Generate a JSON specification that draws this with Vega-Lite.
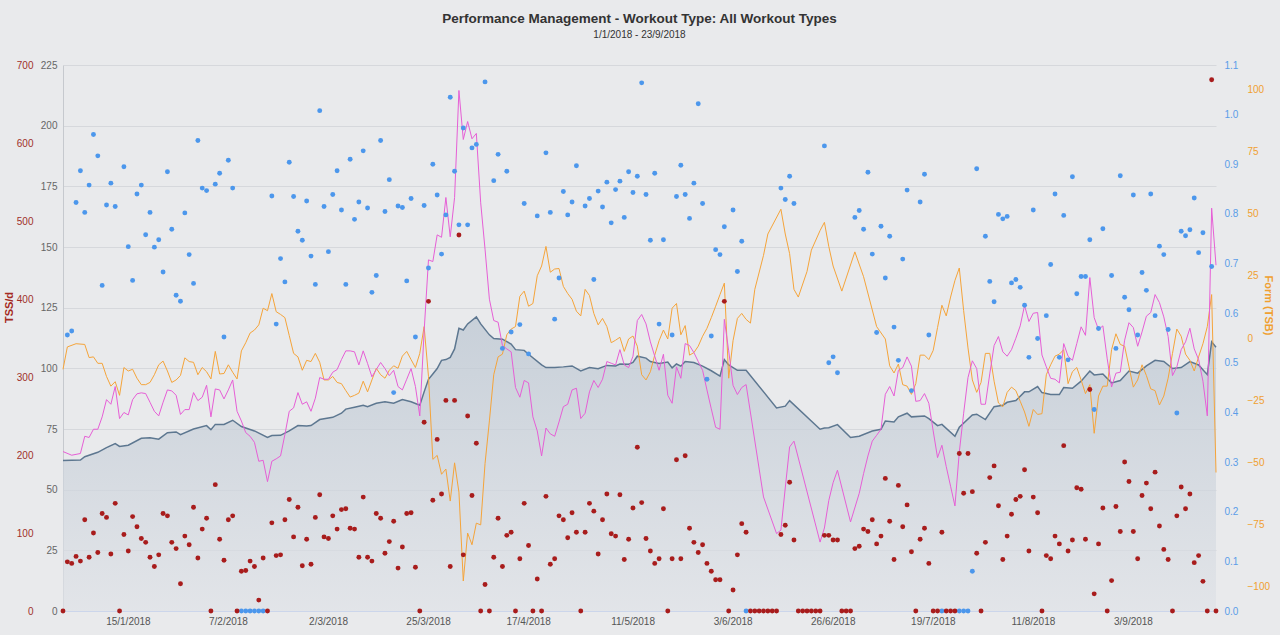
{
  "$schema": "https://vega.github.io/schema/vega-lite/v6.json",
  "width": 1153,
  "height": 546,
  "autosize": "none",
  "padding": {"left": 63, "top": 65, "right": 64, "bottom": 24},
  "background": "#e9eaec",
  "title": {
    "text": "Performance Management - Workout Type: All Workout Types",
    "subtitle": "1/1/2018 - 23/9/2018",
    "anchor": "middle",
    "fontSize": 13.5,
    "fontWeight": "bold",
    "color": "#333333",
    "subtitleFontSize": 10,
    "subtitleColor": "#333333",
    "offset": 20,
    "subtitlePadding": 5
  },
  "data": {
    "values": [
      {"date": "2018-01-01", "tss": 0, "ctl": 62, "atl": 65.7, "tsb": -12.6},
      {"date": "2018-01-02", "tss": 63, "IF": 0.556, "tsb": -3.6},
      {"date": "2018-01-03", "tss": 61, "IF": 0.564, "atl": 64.2},
      {"date": "2018-01-04", "tss": 70, "IF": 0.823, "tsb": -2.3},
      {"date": "2018-01-05", "tss": 64, "IF": 0.887, "ctl": 62.2, "atl": 64.9},
      {"date": "2018-01-06", "tss": 117, "IF": 0.803, "ctl": 63.6, "atl": 72, "tsb": -2.6},
      {"date": "2018-01-07", "tss": 69, "IF": 0.858, "atl": 71.5, "tsb": -7.9},
      {"date": "2018-01-08", "tss": 100, "IF": 0.96, "atl": 74.9, "tsb": -7.6},
      {"date": "2018-01-09", "tss": 75, "IF": 0.917, "ctl": 65.4, "atl": 74.9, "tsb": -10.2},
      {"date": "2018-01-10", "tss": 125, "IF": 0.656, "atl": 80, "tsb": -10.2},
      {"date": "2018-01-11", "tss": 120, "IF": 0.818, "ctl": 67.3, "atl": 87.1, "tsb": -15.5},
      {"date": "2018-01-12", "tss": 73, "IF": 0.862, "atl": 85.2, "tsb": -19.4},
      {"date": "2018-01-13", "tss": 138, "IF": 0.815, "ctl": 69, "atl": 92.5, "tsb": -17.6},
      {"date": "2018-01-14", "tss": 0, "ctl": 67.8, "atl": 79.3, "tsb": -23.1},
      {"date": "2018-01-15", "tss": 98, "IF": 0.895, "atl": 81.8, "tsb": -11.9},
      {"date": "2018-01-16", "tss": 77, "IF": 0.734, "ctl": 68.3, "atl": 80.8, "tsb": -13.3},
      {"date": "2018-01-17", "tss": 121, "IF": 0.666, "atl": 87.1, "tsb": -12.6},
      {"date": "2018-01-18", "tss": 108, "IF": 0.84, "atl": 89.5, "tsb": -16.2},
      {"date": "2018-01-19", "tss": 93, "IF": 0.858, "ctl": 71.2, "atl": 89.9, "tsb": -18.8},
      {"date": "2018-01-20", "tss": 88, "IF": 0.758, "atl": 89.6, "tsb": -18.8},
      {"date": "2018-01-21", "tss": 69, "IF": 0.803, "ctl": 71.4, "atl": 86, "tsb": -17.9},
      {"date": "2018-01-22", "tss": 57, "IF": 0.733, "atl": 82.3, "tsb": -14.8},
      {"date": "2018-01-23", "tss": 72, "IF": 0.748, "ctl": 70.8, "atl": 80.4, "tsb": -10.8},
      {"date": "2018-01-24", "tss": 125, "IF": 0.683, "atl": 86, "tsb": -9.3},
      {"date": "2018-01-25", "tss": 122, "IF": 0.885, "ctl": 73.5, "atl": 91.1, "tsb": -13.3},
      {"date": "2018-01-26", "tss": 88, "IF": 0.769, "atl": 90.7, "tsb": -17.9},
      {"date": "2018-01-27", "tss": 80, "IF": 0.636, "ctl": 73.8, "atl": 88.9, "tsb": -16.9},
      {"date": "2018-01-28", "tss": 35, "IF": 0.624, "ctl": 72.7, "atl": 81, "tsb": -15.1},
      {"date": "2018-01-29", "tss": 96, "IF": 0.802, "atl": 83, "tsb": -8},
      {"date": "2018-01-30", "tss": 85, "IF": 0.718, "atl": 83, "tsb": -9.5},
      {"date": "2018-01-31", "tss": 133, "IF": 0.66, "ctl": 75, "atl": 90, "tsb": -9.8},
      {"date": "2018-02-01", "tss": 68, "IF": 0.948, "atl": 86.7, "tsb": -14.8},
      {"date": "2018-02-02", "tss": 105, "IF": 0.852, "atl": 88.1, "tsb": -11.9},
      {"date": "2018-02-03", "tss": 119, "IF": 0.847, "ctl": 76.4, "atl": 93, "tsb": -13.6},
      {"date": "2018-02-04", "tss": 0, "ctl": 74.7, "atl": 80, "tsb": -16.5},
      {"date": "2018-02-05", "tss": 162, "IF": 0.86, "ctl": 76.9, "atl": 91.5, "tsb": -5.4},
      {"date": "2018-02-06", "tss": 92, "IF": 0.882, "atl": 91.1, "tsb": -14.5},
      {"date": "2018-02-07", "tss": 65, "IF": 0.552, "ctl": 76.9, "atl": 87.4, "tsb": -14.3},
      {"date": "2018-02-08", "tss": 117, "IF": 0.908, "atl": 91.1, "tsb": -10.8},
      {"date": "2018-02-09", "tss": 122, "IF": 0.852, "ctl": 78.6, "atl": 95.2, "tsb": -13.8},
      {"date": "2018-02-10", "tss": 0, "atl": 82.3, "tsb": -16.5},
      {"date": "2018-02-11", "tss": 51, "IF": 0, "ctl": 76, "atl": 78.3, "tsb": -5.2},
      {"date": "2018-02-12", "tss": 52, "IF": 0, "atl": 73.5, "tsb": -1.9},
      {"date": "2018-02-13", "tss": 64, "IF": 0, "atl": 72, "tsb": 2},
      {"date": "2018-02-14", "tss": 57, "IF": 0, "ctl": 74.2, "atl": 69.5, "tsb": 3.2},
      {"date": "2018-02-15", "tss": 14, "IF": 0, "atl": 61.7, "tsb": 5.3},
      {"date": "2018-02-16", "tss": 68, "IF": 0, "atl": 62.1, "tsb": 12},
      {"date": "2018-02-17", "tss": 0, "ctl": 71.5, "atl": 53.3, "tsb": 11},
      {"date": "2018-02-18", "tss": 113, "IF": 0.836, "ctl": 72.3, "atl": 61.7, "tsb": 17.9},
      {"date": "2018-02-19", "tss": 71, "IF": 0.578, "atl": 62.7, "tsb": 10.6},
      {"date": "2018-02-20", "tss": 72, "IF": 0.71, "ctl": 72.4, "atl": 63.9, "tsb": 9.5},
      {"date": "2018-02-21", "tss": 117, "IF": 0.663, "atl": 72.7, "tsb": 8.2},
      {"date": "2018-02-22", "tss": 143, "IF": 0.904, "ctl": 74.2, "atl": 82.3, "tsb": 1},
      {"date": "2018-02-23", "tss": 95, "IF": 0.835, "atl": 83.7, "tsb": -6.2},
      {"date": "2018-02-24", "tss": 133, "IF": 0.765, "ctl": 76.4, "atl": 90, "tsb": -7.6},
      {"date": "2018-02-25", "tss": 58, "IF": 0.747, "atl": 85.2, "tsb": -13},
      {"date": "2018-02-26", "tss": 92, "IF": 0.826, "ctl": 76.2, "atl": 86.2, "tsb": -9},
      {"date": "2018-02-27", "tss": 60, "IF": 0.715, "ctl": 76.4, "atl": 82.3, "tsb": -9.5},
      {"date": "2018-02-28", "tss": 120, "IF": 0.658, "atl": 87.7, "tsb": -6.2},
      {"date": "2018-03-01", "tss": 149, "IF": 1.008, "ctl": 78.9, "atl": 96.2, "tsb": -9.8},
      {"date": "2018-03-02", "tss": 95, "IF": 0.815, "atl": 95.5, "tsb": -16.9},
      {"date": "2018-03-03", "tss": 93, "IF": 0.724, "atl": 95.5, "tsb": -16.9},
      {"date": "2018-03-04", "tss": 122, "IF": 0.839, "ctl": 79.8, "atl": 98.4, "tsb": -15.5},
      {"date": "2018-03-05", "tss": 105, "IF": 0.887, "atl": 99.5, "tsb": -17.9},
      {"date": "2018-03-06", "tss": 130, "IF": 0.808, "ctl": 81.5, "atl": 103.6, "tsb": -18.4},
      {"date": "2018-03-07", "tss": 131, "IF": 0.658, "ctl": 83.2, "atl": 107.2, "tsb": -21.2},
      {"date": "2018-03-08", "tss": 106, "IF": 0.91, "atl": 107.2, "tsb": -23.8},
      {"date": "2018-03-09", "tss": 105, "IF": 0.789, "ctl": 84, "atl": 106.8, "tsb": -23.1},
      {"date": "2018-03-10", "tss": 69, "IF": 0.824, "atl": 101.4, "tsb": -22.2},
      {"date": "2018-03-11", "tss": 146, "IF": 0.927, "ctl": 84.8, "atl": 107.2, "tsb": -17.4},
      {"date": "2018-03-12", "tss": 69, "IF": 0.812, "ctl": 84.2, "atl": 102, "tsb": -21.7},
      {"date": "2018-03-13", "tss": 64, "IF": 0.642, "atl": 96.5, "tsb": -16.9},
      {"date": "2018-03-14", "tss": 125, "IF": 0.676, "ctl": 85.6, "atl": 99.5, "tsb": -12.2},
      {"date": "2018-03-15", "tss": 119, "IF": 0.948, "atl": 102.4, "tsb": -14.8},
      {"date": "2018-03-16", "tss": 74, "IF": 0.805, "ctl": 86.2, "atl": 99.9, "tsb": -16.2},
      {"date": "2018-03-17", "tss": 89, "IF": 0.869, "atl": 97, "tsb": -13},
      {"date": "2018-03-18", "tss": 115, "IF": 0.44, "ctl": 85.6, "atl": 99.2, "tsb": -11.2},
      {"date": "2018-03-19", "tss": 55, "IF": 0.816, "atl": 92.5, "tsb": -12.2},
      {"date": "2018-03-20", "tss": 82, "IF": 0.813, "ctl": 87.1, "atl": 91.1, "tsb": -7.3},
      {"date": "2018-03-21", "tss": 125, "IF": 0.665, "atl": 95.5, "tsb": -5.4},
      {"date": "2018-03-22", "tss": 126, "IF": 0.831, "ctl": 86.2, "atl": 99.9, "tsb": -8.7},
      {"date": "2018-03-23", "tss": 56, "IF": 0.552, "atl": 92.5, "tsb": -11.9},
      {"date": "2018-03-24", "tss": 0, "ctl": 84.8, "atl": 80.4, "tsb": -6.2},
      {"date": "2018-03-25", "tss": 242, "IF": 0.817, "ctl": 90.3, "atl": 115.3, "tsb": 4.6},
      {"date": "2018-03-26", "tss": 397, "IF": 0.691, "ctl": 95.5, "atl": 144.7, "tsb": -15.5},
      {"date": "2018-03-27", "tss": 142, "IF": 0.9, "ctl": 97.7, "atl": 144, "tsb": -48.9},
      {"date": "2018-03-28", "tss": 220, "IF": 0.838, "ctl": 99.9, "atl": 155, "tsb": -47.3},
      {"date": "2018-03-29", "tss": 150, "IF": 0.719, "ctl": 103.3, "atl": 154, "tsb": -54.9},
      {"date": "2018-03-30", "tss": 270, "IF": 0.798, "ctl": 103.6, "atl": 170.4, "tsb": -52.8},
      {"date": "2018-03-31", "tss": 57, "IF": 1.035, "ctl": 104.5, "atl": 154.2, "tsb": -65.7},
      {"date": "2018-04-01", "tss": 270, "IF": 0.886, "ctl": 108, "atl": 170.4, "tsb": -50.3},
      {"date": "2018-04-02", "tss": 482, "IF": 0.778, "ctl": 116.5, "atl": 214.5, "tsb": -62.1},
      {"date": "2018-04-03", "tss": 72, "IF": 0.973, "ctl": 115.8, "atl": 194.3, "tsb": -97.9},
      {"date": "2018-04-04", "tss": 250, "IF": 0.778, "ctl": 118.3, "atl": 201.7, "tsb": -78.6},
      {"date": "2018-04-05", "tss": 148, "IF": 0.933, "atl": 194.6, "tsb": -83.3},
      {"date": "2018-04-06", "tss": 215, "IF": 0.94, "ctl": 121.2, "atl": 196.8, "tsb": -74.6},
      {"date": "2018-04-07", "tss": 0, "ctl": 118.3, "atl": 168.2, "tsb": -75.3},
      {"date": "2018-04-08", "tss": 34, "IF": 1.066, "atl": 149.1, "tsb": -50.6},
      {"date": "2018-04-09", "tss": 0, "ctl": 113.8, "atl": 128.5, "tsb": -33.4},
      {"date": "2018-04-10", "tss": 69, "IF": 0.867, "ctl": 112.3, "atl": 119.7, "tsb": -14.8},
      {"date": "2018-04-11", "tss": 119, "IF": 0.92, "atl": 119, "tsb": -7.6},
      {"date": "2018-04-12", "tss": 57, "IF": 0.529, "ctl": 112, "atl": 109.4, "tsb": -6.5},
      {"date": "2018-04-13", "tss": 97, "IF": 0.886, "atl": 108, "tsb": 1.3},
      {"date": "2018-04-14", "tss": 101, "IF": 0.562, "ctl": 110, "atl": 106.8, "tsb": 3.6},
      {"date": "2018-04-15", "tss": 0, "ctl": 107.7, "atl": 92.1, "tsb": 4.6},
      {"date": "2018-04-16", "tss": 67, "IF": 0.577, "atl": 88.1, "tsb": 16.8},
      {"date": "2018-04-17", "tss": 138, "IF": 0.821, "ctl": 107.4, "atl": 95, "tsb": 18.9},
      {"date": "2018-04-18", "tss": 84, "IF": 0.518, "ctl": 105.8, "atl": 94, "tsb": 12.8},
      {"date": "2018-04-19", "tss": 0, "atl": 80, "tsb": 13.9},
      {"date": "2018-04-20", "tss": 41, "IF": 0.796, "atl": 74.2, "tsb": 25.1},
      {"date": "2018-04-21", "tss": 0, "ctl": 101.4, "atl": 63.9, "tsb": 29},
      {"date": "2018-04-22", "tss": 147, "IF": 0.923, "ctl": 100.3, "atl": 75.4, "tsb": 36.9},
      {"date": "2018-04-23", "tss": 60, "IF": 0.803, "atl": 73, "tsb": 26.5},
      {"date": "2018-04-24", "tss": 67, "IF": 0.588, "ctl": 100.3, "atl": 72, "tsb": 27.8},
      {"date": "2018-04-25", "tss": 122, "IF": 0.671, "atl": 77.9, "tsb": 28},
      {"date": "2018-04-26", "tss": 117, "IF": 0.845, "ctl": 100.6, "atl": 84.2, "tsb": 20.8},
      {"date": "2018-04-27", "tss": 94, "IF": 0.798, "atl": 85.2, "tsb": 17.9},
      {"date": "2018-04-28", "tss": 126, "IF": 0.824, "ctl": 101, "atl": 91.1, "tsb": 15.6},
      {"date": "2018-04-29", "tss": 101, "IF": 0.897, "atl": 91.8, "tsb": 10.8},
      {"date": "2018-04-30", "tss": 0, "ctl": 98.9, "atl": 79.3, "tsb": 8.9},
      {"date": "2018-05-01", "tss": 101, "IF": 0.816, "atl": 81.5, "tsb": 19.6},
      {"date": "2018-05-02", "tss": 138, "IF": 0.831, "ctl": 100.3, "atl": 90.3, "tsb": 17.1},
      {"date": "2018-05-03", "tss": 128, "IF": 0.668, "atl": 95, "tsb": 9.9},
      {"date": "2018-05-04", "tss": 73, "IF": 0.846, "ctl": 99.8, "atl": 92.1, "tsb": 5.3},
      {"date": "2018-05-05", "tss": 117, "IF": 0.814, "atl": 95.5, "tsb": 7.9},
      {"date": "2018-05-06", "tss": 150, "IF": 0.864, "ctl": 101.2, "atl": 102.8, "tsb": 4.6},
      {"date": "2018-05-07", "tss": 99, "IF": 0.782, "atl": 102.1, "tsb": -1.9},
      {"date": "2018-05-08", "tss": 96, "IF": 0.849, "ctl": 101, "atl": 101.4, "tsb": -0.9},
      {"date": "2018-05-09", "tss": 149, "IF": 0.866, "ctl": 101.8, "atl": 107.7, "tsb": 0.3},
      {"date": "2018-05-10", "tss": 66, "IF": 0.793, "atl": 101.4, "tsb": -5.4},
      {"date": "2018-05-11", "tss": 92, "IF": 0.885, "ctl": 101.7, "atl": 100.3, "tsb": -0.4},
      {"date": "2018-05-12", "tss": 132, "IF": 0.843, "ctl": 102.4, "atl": 105, "tsb": 0.8},
      {"date": "2018-05-13", "tss": 210, "IF": 0.876, "ctl": 105, "atl": 119.7, "tsb": -3.3},
      {"date": "2018-05-14", "tss": 139, "IF": 1.064, "atl": 122.2, "tsb": -14.8},
      {"date": "2018-05-15", "tss": 93, "IF": 0.839, "ctl": 104.2, "atl": 118.3, "tsb": -16.9},
      {"date": "2018-05-16", "tss": 77, "IF": 0.747, "ctl": 102.8, "atl": 110.9, "tsb": -13.6},
      {"date": "2018-05-17", "tss": 61, "IF": 0.882, "atl": 105, "tsb": -6.9},
      {"date": "2018-05-18", "tss": 67, "IF": 0.578, "ctl": 102, "atl": 99.2, "tsb": -1.1},
      {"date": "2018-05-19", "tss": 131, "IF": 0.748, "atl": 105.8, "tsb": 3.2},
      {"date": "2018-05-20", "tss": 0, "ctl": 102.6, "atl": 88.9, "tsb": -0.4},
      {"date": "2018-05-21", "tss": 67, "IF": 0.556, "ctl": 100.2, "atl": 85.6, "tsb": 12},
      {"date": "2018-05-22", "tss": 194, "IF": 0.835, "ctl": 101.8, "atl": 100.6, "tsb": 13.9},
      {"date": "2018-05-23", "tss": 67, "IF": 0.898, "ctl": 100.9, "atl": 95.9, "tsb": 1.3},
      {"date": "2018-05-24", "tss": 199, "IF": 0.839, "ctl": 102.8, "atl": 110.2, "tsb": 5},
      {"date": "2018-05-25", "tss": 106, "IF": 0.791, "atl": 109.4, "tsb": -6.9},
      {"date": "2018-05-26", "tss": 88, "IF": 0.862, "ctl": 102.4, "atl": 106.5, "tsb": -5.9},
      {"date": "2018-05-27", "tss": 75, "IF": 1.022, "atl": 102.8, "tsb": -3.3},
      {"date": "2018-05-28", "tss": 85, "IF": 0.821, "ctl": 100.9, "atl": 99.2, "tsb": 0.7},
      {"date": "2018-05-29", "tss": 61, "IF": 0.467, "atl": 91.1, "tsb": 3.9},
      {"date": "2018-05-30", "tss": 51, "IF": 0.554, "ctl": 99, "atl": 83.3, "tsb": 8.2},
      {"date": "2018-05-31", "tss": 40, "IF": 0.728, "atl": 75.7, "tsb": 12.8},
      {"date": "2018-06-01", "tss": 40, "IF": 0.718, "ctl": 96.8, "atl": 74.9, "tsb": 17.5},
      {"date": "2018-06-02", "tss": 397, "IF": 0.774, "ctl": 103.6, "atl": 120.2, "tsb": 22.1},
      {"date": "2018-06-03", "tss": 0, "ctl": 101.4, "atl": 107.2, "tsb": -16.2},
      {"date": "2018-06-04", "tss": 27, "IF": 0.808, "atl": 93, "tsb": -1.1},
      {"date": "2018-06-05", "tss": 72, "IF": 0.684, "ctl": 99.2, "atl": 89.2, "tsb": 7.9},
      {"date": "2018-06-06", "tss": 112, "IF": 0.745, "atl": 92.1, "tsb": 9.9},
      {"date": "2018-06-07", "tss": 101, "IF": 0, "ctl": 99.2, "atl": 93.3, "tsb": 7.5},
      {"date": "2018-06-08", "tss": 0, "tsb": 6},
      {"date": "2018-06-09", "tss": 0, "tsb": 19.6},
      {"date": "2018-06-10", "tss": 0},
      {"date": "2018-06-11", "tss": 0, "atl": 47, "tsb": 33.3},
      {"date": "2018-06-12", "tss": 0, "tsb": 41.9},
      {"date": "2018-06-13", "tss": 0},
      {"date": "2018-06-14", "tss": 0, "ctl": 83.7, "atl": 31.9},
      {"date": "2018-06-15", "tss": 98, "IF": 0.852, "atl": 33.3, "tsb": 51.9},
      {"date": "2018-06-16", "tss": 110, "IF": 0.829, "ctl": 84.4, "atl": 50.7, "tsb": 41.9},
      {"date": "2018-06-17", "tss": 165, "IF": 0.876, "ctl": 86.7, "atl": 67.6, "tsb": 34},
      {"date": "2018-06-18", "tss": 91, "IF": 0.821, "atl": 70, "tsb": 19.6},
      {"date": "2018-06-19", "tss": 0, "tsb": 16.5},
      {"date": "2018-06-20", "tss": 0},
      {"date": "2018-06-21", "tss": 0, "tsb": 26.8},
      {"date": "2018-06-22", "tss": 0, "tsb": 35.4},
      {"date": "2018-06-23", "tss": 0},
      {"date": "2018-06-24", "tss": 0, "ctl": 74.9, "atl": 28.4, "tsb": 43.3},
      {"date": "2018-06-25", "tss": 97, "IF": 0.937, "ctl": 75.4, "atl": 34.2, "tsb": 46.6},
      {"date": "2018-06-26", "tss": 97, "IF": 0.5, "ctl": 75.5, "atl": 45.5, "tsb": 36.9},
      {"date": "2018-06-27", "tss": 91, "IF": 0.512, "atl": 52.9, "tsb": 29},
      {"date": "2018-06-28", "tss": 91, "IF": 0.48, "ctl": 76.8, "atl": 58},
      {"date": "2018-06-29", "tss": 0, "tsb": 18.9},
      {"date": "2018-06-30", "tss": 0},
      {"date": "2018-07-01", "tss": 0, "ctl": 71.5, "atl": 36.7},
      {"date": "2018-07-02", "tss": 80, "IF": 0.793, "tsb": 34.7},
      {"date": "2018-07-03", "tss": 83, "IF": 0.807, "ctl": 72, "atl": 48.5},
      {"date": "2018-07-04", "tss": 105, "IF": 0.769, "atl": 56.6, "tsb": 24.7},
      {"date": "2018-07-05", "tss": 102, "IF": 0.884, "atl": 63.9},
      {"date": "2018-07-06", "tss": 117, "IF": 0.719, "ctl": 74.2, "atl": 70},
      {"date": "2018-07-07", "tss": 86, "IF": 0.561, "atl": 72.4, "tsb": 4.6},
      {"date": "2018-07-08", "tss": 96, "IF": 0.775, "ctl": 74.9, "atl": 74.9},
      {"date": "2018-07-09", "tss": 170, "IF": 0.671, "ctl": 78.3, "atl": 89.3, "tsb": -0.4},
      {"date": "2018-07-10", "tss": 115, "IF": 0.755, "atl": 92.5, "tsb": -11.2},
      {"date": "2018-07-11", "tss": 66, "IF": 0.572, "ctl": 77.9, "atl": 88.6, "tsb": -14.1},
      {"date": "2018-07-12", "tss": 161, "IF": 0.505, "ctl": 80, "atl": 99.2, "tsb": -10.5},
      {"date": "2018-07-13", "tss": 108, "IF": 0.709, "atl": 100.3, "tsb": -18.8},
      {"date": "2018-07-14", "tss": 136, "IF": 0.848, "ctl": 81.5, "atl": 104.7, "tsb": -19.4},
      {"date": "2018-07-15", "tss": 76, "IF": 0.444, "ctl": 80, "atl": 100.9, "tsb": -22.7},
      {"date": "2018-07-16", "tss": 0, "atl": 86.4, "tsb": -18.4},
      {"date": "2018-07-17", "tss": 92, "IF": 0.824, "atl": 86.7, "tsb": -6.9},
      {"date": "2018-07-18", "tss": 106, "IF": 0.88, "ctl": 80.4, "atl": 89.6, "tsb": -6.9},
      {"date": "2018-07-19", "tss": 61, "IF": 0.556, "ctl": 79.3, "atl": 85.6, "tsb": -8.7},
      {"date": "2018-07-20", "tss": 0, "atl": 74.2, "tsb": -5},
      {"date": "2018-07-21", "tss": 0, "ctl": 76.4, "atl": 63.2, "tsb": 4.2},
      {"date": "2018-07-22", "tss": 101, "IF": 0, "ctl": 76.9, "atl": 68.3, "tsb": 13.2},
      {"date": "2018-07-23", "tss": 0, "atl": 59.5, "tsb": 8.9},
      {"date": "2018-07-24", "tss": 0, "atl": 51.4, "tsb": 16.5},
      {"date": "2018-07-25", "tss": 0, "ctl": 72, "atl": 43.3, "tsb": 23.2},
      {"date": "2018-07-26", "tss": 202, "IF": 0, "ctl": 75.7, "atl": 65.4, "tsb": 28.2},
      {"date": "2018-07-27", "tss": 151, "IF": 0, "atl": 81.5, "tsb": 11},
      {"date": "2018-07-28", "tss": 202, "IF": 0, "atl": 96.2, "tsb": -4},
      {"date": "2018-07-29", "tss": 153, "IF": 0.08, "ctl": 80.8, "atl": 103.1, "tsb": -16.9},
      {"date": "2018-07-30", "tss": 74, "IF": 0.891, "ctl": 81.1, "atl": 99.9, "tsb": -21.9},
      {"date": "2018-07-31", "tss": 0, "atl": 85.2, "tsb": -17.9},
      {"date": "2018-08-01", "tss": 88, "IF": 0.755, "ctl": 78.9, "atl": 85.2, "tsb": -6.2},
      {"date": "2018-08-02", "tss": 171, "IF": 0.664, "atl": 97.7, "tsb": -6.2},
      {"date": "2018-08-03", "tss": 186, "IF": 0.623, "ctl": 84.2, "atl": 109.4, "tsb": -17.4},
      {"date": "2018-08-04", "tss": 135, "IF": 0.799, "atl": 113.1, "tsb": -26.2},
      {"date": "2018-08-05", "tss": 66, "IF": 0.79, "ctl": 84.8, "atl": 106.8, "tsb": -27.7},
      {"date": "2018-08-06", "tss": 96, "IF": 0.795, "ctl": 86, "atl": 105, "tsb": -21.9},
      {"date": "2018-08-07", "tss": 124, "IF": 0.661, "atl": 107.7, "tsb": -19.8},
      {"date": "2018-08-08", "tss": 143, "IF": 0.668, "ctl": 86.7, "atl": 112.4, "tsb": -21.2},
      {"date": "2018-08-09", "tss": 147, "IF": 0.652, "atl": 117.5, "tsb": -25.5},
      {"date": "2018-08-10", "tss": 181, "IF": 0.616, "ctl": 90.3, "atl": 125.9, "tsb": -29.8},
      {"date": "2018-08-11", "tss": 77, "IF": 0.511, "ctl": 90.3, "atl": 119.3, "tsb": -35.6},
      {"date": "2018-08-12", "tss": 146, "IF": 0.808, "atl": 122.7, "tsb": -28.8},
      {"date": "2018-08-13", "tss": 126, "IF": 0.549, "ctl": 92.5, "atl": 123, "tsb": -30.8},
      {"date": "2018-08-14", "tss": 0, "ctl": 90, "atl": 105.5, "tsb": -30.5},
      {"date": "2018-08-15", "tss": 71, "IF": 0.595, "atl": 100.6, "tsb": -14.8},
      {"date": "2018-08-16", "tss": 67, "IF": 0.698, "ctl": 89.2, "atl": 95.9, "tsb": -10.8},
      {"date": "2018-08-17", "tss": 96, "IF": 0.84, "atl": 95.5, "tsb": -7.3},
      {"date": "2018-08-18", "tss": 86, "IF": 0.511, "ctl": 89.2, "atl": 94, "tsb": -6.5},
      {"date": "2018-08-19", "tss": 212, "IF": 0.797, "ctl": 92.1, "atl": 110.2, "tsb": -4.7},
      {"date": "2018-08-20", "tss": 77, "IF": 0.506, "atl": 105, "tsb": -18.4},
      {"date": "2018-08-21", "tss": 91, "IF": 0.875, "ctl": 91.8, "atl": 103.3, "tsb": -13.6},
      {"date": "2018-08-22", "tss": 158, "IF": 0.639, "atl": 110.2, "tsb": -11.9},
      {"date": "2018-08-23", "tss": 156, "IF": 0.674, "ctl": 94.7, "atl": 117.1, "tsb": -16.9},
      {"date": "2018-08-24", "tss": 92, "IF": 0.674, "atl": 113.6, "tsb": -22.4},
      {"date": "2018-08-25", "tss": 284, "IF": 0.748, "ctl": 98.9, "atl": 137.4, "tsb": -18.8},
      {"date": "2018-08-26", "tss": 22, "IF": 0.406, "ctl": 97.3, "atl": 120.9, "tsb": -38.4},
      {"date": "2018-08-27", "tss": 86, "IF": 0.569, "atl": 116, "tsb": -23.4},
      {"date": "2018-08-28", "tss": 132, "IF": 0.77, "ctl": 97.7, "atl": 117.5, "tsb": -19.4},
      {"date": "2018-08-29", "tss": 0, "atl": 103.9, "tsb": -19.4},
      {"date": "2018-08-30", "tss": 39, "IF": 0.676, "ctl": 94, "atl": 92.3, "tsb": -4.7},
      {"date": "2018-08-31", "tss": 134, "IF": 0.529, "atl": 98, "tsb": 1.7},
      {"date": "2018-09-01", "tss": 102, "IF": 0.877, "ctl": 95, "atl": 98.4, "tsb": -2.6},
      {"date": "2018-09-02", "tss": 191, "IF": 0.632, "atl": 111.6, "tsb": -3.3},
      {"date": "2018-09-03", "tss": 166, "IF": 0.607, "ctl": 98.9, "atl": 118.8, "tsb": -11.6},
      {"date": "2018-09-04", "tss": 102, "IF": 0.838, "atl": 116.8, "tsb": -19.8},
      {"date": "2018-09-05", "tss": 67, "IF": 0.556, "ctl": 98, "atl": 109.1, "tsb": -16.9},
      {"date": "2018-09-06", "tss": 148, "IF": 0.682, "atl": 115, "tsb": -10.8},
      {"date": "2018-09-07", "tss": 164, "IF": 0.646, "ctl": 101, "atl": 121.5, "tsb": -15.1},
      {"date": "2018-09-08", "tss": 131, "IF": 0.84, "atl": 123, "tsb": -20.5},
      {"date": "2018-09-09", "tss": 178, "IF": 0.595, "ctl": 103.3, "atl": 130.4, "tsb": -21.2},
      {"date": "2018-09-10", "tss": 109, "IF": 0.735, "atl": 127.1, "tsb": -27},
      {"date": "2018-09-11", "tss": 79, "IF": 0.718, "ctl": 102.8, "atl": 121.2, "tsb": -23.4},
      {"date": "2018-09-12", "tss": 66, "IF": 0.567, "atl": 113.1, "tsb": -16.2},
      {"date": "2018-09-13", "tss": 0, "ctl": 99.9, "atl": 97, "tsb": -6.2},
      {"date": "2018-09-14", "tss": 122, "IF": 0.399, "atl": 100.6, "tsb": 3.6},
      {"date": "2018-09-15", "tss": 159, "IF": 0.765, "ctl": 100.3, "atl": 107.7, "tsb": 0.7},
      {"date": "2018-09-16", "tss": 131, "IF": 0.756, "atl": 110.9, "tsb": -6.5},
      {"date": "2018-09-17", "tss": 150, "IF": 0.768, "ctl": 102.8, "atl": 116.5, "tsb": -9},
      {"date": "2018-09-18", "tss": 62, "IF": 0.832, "atl": 108, "tsb": -13.3},
      {"date": "2018-09-19", "tss": 71, "IF": 0.722, "ctl": 101.4, "atl": 103.6, "tsb": -7.6},
      {"date": "2018-09-20", "tss": 38, "IF": 0.762, "atl": 94.7, "tsb": -2.3},
      {"date": "2018-09-21", "tss": 0, "ctl": 97.4, "atl": 80.4, "tsb": 4.6},
      {"date": "2018-09-22", "tss": 681, "IF": 0.694, "ctl": 110.9, "atl": 166, "tsb": 17.5},
      {"date": "2018-09-23", "tss": 0, "ctl": 108.7, "atl": 142.5, "tsb": -54.2}
    ]
  },
  "encoding": {
    "x": {
      "field": "date",
      "type": "temporal",
      "scale": {
        "type": "utc",
        "domain": [
          {"year": 2018, "month": 1, "date": 1, "utc": true},
          {"year": 2018, "month": 9, "date": 23, "utc": true}
        ]
      },
      "axis": {
        "title": null,
        "format": "%-d/%-m/%Y",
        "values": [
          {"year": 2018, "month": 1, "date": 15, "hours": 22, "utc": true},
          {"year": 2018, "month": 2, "date": 7, "hours": 22, "utc": true},
          {"year": 2018, "month": 3, "date": 2, "hours": 22, "utc": true},
          {"year": 2018, "month": 3, "date": 25, "hours": 22, "utc": true},
          {"year": 2018, "month": 4, "date": 17, "hours": 22, "utc": true},
          {"year": 2018, "month": 5, "date": 11, "hours": 22, "utc": true},
          {"year": 2018, "month": 6, "date": 3, "hours": 22, "utc": true},
          {"year": 2018, "month": 6, "date": 26, "hours": 22, "utc": true},
          {"year": 2018, "month": 7, "date": 19, "hours": 22, "utc": true},
          {"year": 2018, "month": 8, "date": 11, "hours": 22, "utc": true},
          {"year": 2018, "month": 9, "date": 3, "hours": 22, "utc": true}
        ],
        "grid": false,
        "ticks": false,
        "domainColor": "#ccd6eb",
        "labelColor": "#555555",
        "labelFontSize": 10,
        "labelPadding": 5,
        "labelFlush": false
      }
    }
  },
  "layer": [
    {
      "transform": [{"filter": {"field": "ctl", "valid": true}}],
      "mark": {
        "type": "area",
        "line": {"color": "#5d7790", "strokeWidth": 1.5},
        "color": {
          "gradient": "linear",
          "x1": 1, "y1": 1, "x2": 1, "y2": 0,
          "stops": [
            {"offset": 0, "color": "#dfe2e7"},
            {"offset": 1, "color": "#bac5d1"}
          ]
        }
      },
      "encoding": {
        "y": {
          "field": "ctl",
          "type": "quantitative",
          "scale": {"domain": [0, 225], "nice": false},
          "axis": {
            "orient": "left",
            "title": null,
            "values": [0, 25, 50, 75, 100, 125, 150, 175, 200, 225],
            "grid": true,
            "gridColor": "#d6d8dc",
            "ticks": false,
            "domainColor": "#c6c9ce",
            "labelColor": "#666666",
            "labelFontSize": 10,
            "labelPadding": 6
          }
        }
      }
    },
    {
      "transform": [{"filter": {"field": "tsb", "valid": true}}],
      "mark": {"type": "line", "color": "#f5a43a", "strokeWidth": 1},
      "encoding": {
        "y": {
          "field": "tsb",
          "type": "quantitative",
          "scale": {"domain": [-110, 110], "nice": false, "zero": false},
          "axis": {
            "orient": "right",
            "offset": 26,
            "title": "Form (TSB)",
            "titleColor": "#f0a030",
            "titleFontSize": 11,
            "titleFontWeight": "bold",
            "titleY": 240,
            "titlePadding": -7,
            "values": [-100, -75, -50, -25, 0, 25, 50, 75, 100],
            "grid": false,
            "ticks": false,
            "domain": false,
            "labelColor": "#f0a030",
            "labelFontSize": 10,
            "labelPadding": 5
          }
        }
      }
    },
    {
      "transform": [{"filter": {"field": "atl", "valid": true}}],
      "mark": {"type": "line", "color": "#e65fd6", "strokeWidth": 1},
      "encoding": {
        "y": {
          "field": "atl",
          "type": "quantitative",
          "scale": {"domain": [0, 225], "nice": false},
          "axis": null
        }
      }
    },
    {
      "transform": [{"filter": {"field": "IF", "valid": true}}],
      "mark": {"type": "circle", "size": 24, "color": "#4c97ec", "opacity": 1},
      "encoding": {
        "y": {
          "field": "IF",
          "type": "quantitative",
          "scale": {"domain": [0, 1.1], "nice": false},
          "axis": {
            "orient": "right",
            "title": null,
            "values": [0, 0.1, 0.2, 0.3, 0.4, 0.5, 0.6, 0.7, 0.8, 0.9, 1.0, 1.1],
            "format": ".1f",
            "grid": false,
            "ticks": false,
            "domain": false,
            "labelColor": "#5b9de8",
            "labelFontSize": 10,
            "labelPadding": 8
          }
        }
      }
    },
    {
      "transform": [{"filter": {"field": "tss", "valid": true}}],
      "mark": {"type": "circle", "size": 24, "color": "#a81c1c", "opacity": 1},
      "encoding": {
        "y": {
          "field": "tss",
          "type": "quantitative",
          "scale": {"domain": [0, 700], "nice": false},
          "axis": {
            "orient": "left",
            "offset": 24,
            "title": "TSS/d",
            "titleColor": "#a52a22",
            "titleFontSize": 11,
            "titleFontWeight": "bold",
            "titleY": 242,
            "titlePadding": 2,
            "values": [0, 100, 200, 300, 400, 500, 600, 700],
            "grid": false,
            "ticks": false,
            "domain": false,
            "labelColor": "#a0302a",
            "labelFontSize": 10,
            "labelPadding": 6
          }
        }
      }
    }
  ],
  "resolve": {"scale": {"y": "independent"}, "axis": {"y": "independent"}},
  "config": {
    "font": "Liberation Sans",
    "view": {"stroke": null}
  }
}
